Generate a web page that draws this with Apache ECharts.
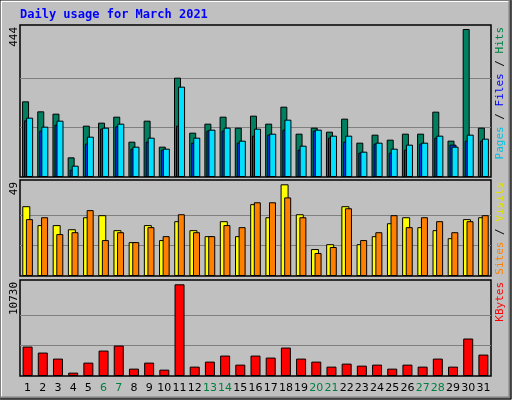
<!DOCTYPE html>
<html><head><meta charset="utf-8">
<script src="https://cdn.jsdelivr.net/npm/echarts@6/dist/echarts.min.js"></script>
<style>html,body{margin:0;padding:0;background:#c0c0c0}#c{width:512px;height:400px}</style>
</head><body><div id="c"></div>
<script>
const days = ['1','2','3','4','5','6','7','8','9','10','11','12','13','14','15','16','17','18','19','20','21','22','23','24','25','26','27','28','29','30','31'];
const weekendDays = ['6','7','13','14','20','21','27','28'];
const hits  = [227,197,190,59,154,163,181,106,169,91,298,133,160,181,148,184,160,211,130,148,136,175,103,127,112,130,130,196,109,444,148];
const files = [178,151,169,34,121,148,160,91,118,85,271,118,142,148,109,145,130,172,94,142,124,124,76,103,85,97,103,124,91,127,115];
const pages = [170,139,157,22,100,145,152,85,106,82,154,103,139,139,103,124,127,142,82,139,118,106,73,100,73,82,100,118,97,109,109];
const sites  = [37.3,27.2,27.2,25,31.4,32.5,24.5,18.1,27.2,19.2,29.3,24.5,21.3,29.3,21.3,38.4,31.4,49,33,14.4,17,37.3,17,21.3,28.2,31.4,26.1,24.5,20.2,30.4,31.4];
const visits = [30.4,31.4,22.4,23.4,35.2,19.2,23.4,18.1,26.1,21.3,33,23.4,21.3,27.2,26.1,39.4,39.4,42,31.4,12.3,15.5,36.2,19.2,23.4,32.5,26.1,31.4,29.3,23.4,29.3,32.5];
const kbytes = [3446,2741,2036,392,1566,2976,3564,862,1566,744,10730,1096,1684,2389,1331,2389,2154,3329,2036,1684,1096,1449,1214,1331,862,1331,1096,2036,1096,4386,2506];
const maxTop = 444, maxMid = 49, maxBot = 10730;

const chart = echarts.init(document.getElementById('c'));
const grids = [
  {left:20, right:21, top:25, height:152},
  {left:20, right:21, top:180, height:96},
  {left:20, right:21, top:280, height:96}
];
const mono = 'DejaVu Sans Mono';
function xa(i){
  return {type:'category', gridIndex:i, data:days.map(d=>({value:d, textStyle:{color: weekendDays.includes(d)?'#008040':'#000'}})),
    axisLine:{show:false}, axisTick:{show:false},
    axisLabel:{show:i===2, fontFamily:'DejaVu Sans', fontSize:11, margin:7, interval:0}};
}
function ya(i,max,scale){
  return {type:'value', gridIndex:i, min:0, max:max*scale, axisLabel:{show:false},
    axisLine:{show:false}, axisTick:{show:false}, splitLine:{show:false}};
}
const bs = {borderColor:'#000', borderWidth:1};
function bar(name, data, color, xi, w, gap, lines){
  const s = {type:'bar', name, data, xAxisIndex:xi, yAxisIndex:xi, barWidth:w, barGap:gap,
    itemStyle:Object.assign({color}, bs), silent:true, animation:false};
  if(lines) s.markLine = {silent:true, symbol:'none', label:{show:false}, animation:false,
    lineStyle:{color:'#808080', type:'solid', width:1}, z:0, data:lines.map(v=>({yAxis:v}))};
  return s;
}
function vtext(x, y, parts){
  return {type:'text', x, y, rotation:Math.PI/2, style:{
    rich:Object.fromEntries(parts.map((p,i)=>['r'+i,{fill:p[1], font:'11px '+mono}])),
    text:parts.map((p,i)=>'{r'+i+'|'+p[0]+'}').join(''),
    align:'right', verticalAlign:'middle'}};
}
chart.setOption({
  backgroundColor:'#c0c0c0',
  grid: grids.map(g=>Object.assign({show:true, backgroundColor:'#c0c0c0', borderColor:'#000', borderWidth:1.5}, g)),
  xAxis:[xa(0),xa(1),xa(2)],
  yAxis:[ya(0,maxTop,1.027),ya(1,maxMid,1.047),ya(2,maxBot,1.047)],
  series:[
    bar('Hits', hits, '#008060', 0, 7, '-71%', [maxTop/3, maxTop*2/3]),
    bar('Pages', pages, '#0040ff', 0, 7, '-71%'),
    bar('Files', files, '#00e0ff', 0, 7, '-71%'),
    bar('Sites', sites, '#ffff00', 1, 8, '-55%', [maxMid/3, maxMid*2/3]),
    bar('Visits', visits, '#ff8000', 1, 7, '-55%'),
    bar('KBytes', kbytes, '#ff0000', 2, 10, '0%', [maxBot/3, maxBot*2/3])
  ],
  graphic:[
    {type:'rect', shape:{x:1,y:1,width:509,height:397}, style:{fill:'none', stroke:'#ffffff', lineWidth:2}},
    {type:'polyline', shape:{points:[[510,1],[510,398],[1,398]]}, style:{fill:'none', stroke:'#808080', lineWidth:3}},
    {type:'rect', shape:{x:0,y:0,width:511,height:399}, style:{fill:'none', stroke:'#000', lineWidth:1}},
    {type:'text', x:20, y:15, style:{text:'Daily usage for March 2021', fill:'#0000ff', font:'bold 12px '+mono, verticalAlign:'middle'}},
    vtext(14, 27, [[String(maxTop),'#000']]),
    vtext(14, 182, [[String(maxMid),'#000']]),
    vtext(14, 282, [[String(maxBot),'#000']]),
    vtext(500, 27, [['Pages','#00c0e0'],[' / ','#000'],['Files','#0000ff'],[' / ','#000'],['Hits','#008040']]),
    vtext(500, 182, [['Sites','#ff8000'],[' / ','#000'],['Visits','#e0e000']]),
    vtext(500, 282, [['KBytes','#ff0000']])
  ]
});
</script></body></html>
